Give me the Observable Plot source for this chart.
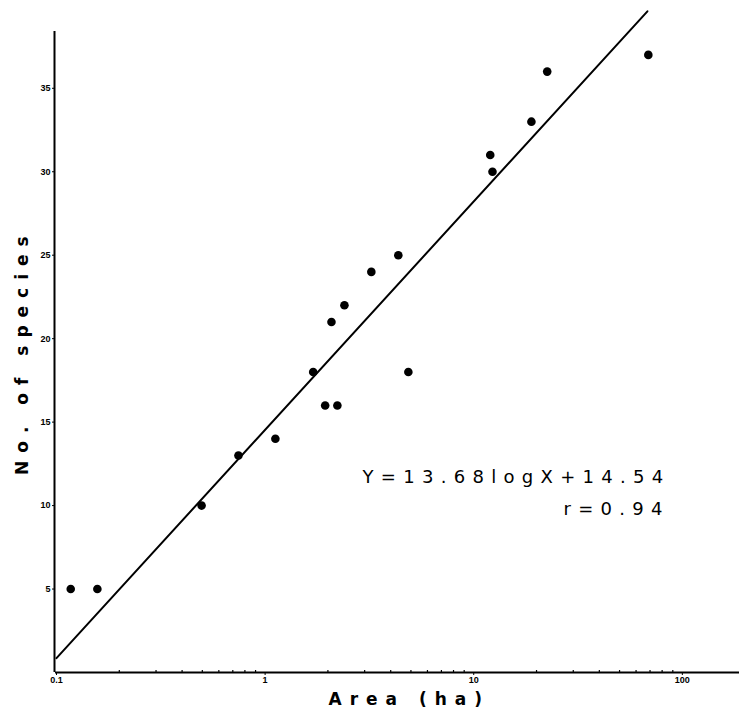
<!DOCTYPE html>
<html><head><meta charset="utf-8">
<script src="https://cdn.jsdelivr.net/npm/d3@7"></script>
<script src="https://cdn.jsdelivr.net/npm/@observablehq/plot@0.6"></script>
<style>body{margin:0;background:#fff}</style>
</head><body><div id="chart"></div>
<script>
// Data
const area = [0.117, 0.157, 0.496, 0.745, 1.12, 1.70, 1.94, 2.08, 2.22, 2.40, 3.23, 4.35, 4.86, 12.0, 12.3, 18.9, 22.5, 68.7];
const species = [5, 5, 10, 13, 14, 18, 16, 21, 16, 22, 24, 25, 18, 31, 30, 33, 36, 37];
const xTicks = [0.1, 1, 10, 100];
const xTickLabels = ["0.1", "1", "10", "100"];
const xMinor = [0.2,0.3,0.4,0.5,0.6,0.7,0.8,0.9, 2,3,4,5,6,7,8,9, 20,30,40,50,60,70,80,90];
const yTicks = [5, 10, 15, 20, 25, 30, 35];
const slope = 13.68, intercept = 14.54, rValue = 0.94;
const fitX = [0.1, 68];
const xDomain = [0.1, 190];
const yDomain = [0, 39.6];
const yAxisTop = 38.4;
const xLabel = "Area (ha)";
const yLabel = "No. of species";
const eqLine1 = "Y=13.68logX+14.54";
const eqLine2 = "r=0.94";

const points = area.map((a, i) => ({area: a, species: species[i]}));
const fit = fitX.map(x => ({x, y: slope * Math.log10(x) + intercept}));

const chart = Plot.plot({
  width: 740,
  height: 715,
  marginLeft: 56,
  marginRight: 0,
  marginTop: 11,
  marginBottom: 43,
  style: {background: "#fff", color: "#000"},
  x: {type: "log", domain: xDomain},
  y: {domain: yDomain},
  marks: [
    Plot.ruleX([xDomain[0]], {y1: 0, y2: yAxisTop, stroke: "#000", strokeWidth: 2, dx: -2}),
    Plot.ruleY([0], {x1: xDomain[0], x2: xDomain[1], stroke: "#000", strokeWidth: 2, dx: -1}),
    Plot.ruleX(xMinor, {y1: 0, y2: 0.12, stroke: "#000", strokeWidth: 1.2}),
    Plot.axisX({ticks: xTicks, tickFormat: d => xTickLabels[xTicks.indexOf(d)], tickSize: 3, tickPadding: 1, fontSize: 9, fontWeight: "bold", fontFamily: "Liberation Sans", label: null}),
    Plot.axisY({ticks: yTicks, tickSize: 3, tickPadding: 2, fontSize: 9, fontWeight: "bold", fontFamily: "Liberation Sans", label: null, dx: -1}),
    Plot.line(fit, {x: "x", y: "y", stroke: "#000", strokeWidth: 2}),
    Plot.dot(points, {x: "area", y: "species", r: 4.3, fill: "#000", stroke: "none"}),
    Plot.text([eqLine1], {frameAnchor: "right", textAnchor: "start", dx: -378, dy: 135, fontSize: 18, fontFamily: "DejaVu Sans", fill: "#000"}),
    Plot.text([eqLine2], {frameAnchor: "right", textAnchor: "start", dx: -177, dy: 167, fontSize: 18, fontFamily: "DejaVu Sans", fill: "#000"}),
    Plot.text([xLabel], {frameAnchor: "bottom", textAnchor: "start", dy: 32, dx: -70, fontSize: 17, fontWeight: "bold", fontFamily: "DejaVu Sans", fill: "#000"}),
    Plot.text([yLabel], {frameAnchor: "left", textAnchor: "start", rotate: -90, dx: -34, dy: 133, fontSize: 17, fontWeight: "bold", fontFamily: "DejaVu Sans", fill: "#000"})
  ]
});
document.getElementById("chart").appendChild(chart);
chart.querySelectorAll("text").forEach(t => {
  const s = t.textContent;
  if (s === xLabel || s === yLabel) t.setAttribute("letter-spacing", "8px");
  if (s === eqLine1 || s === eqLine2) t.setAttribute("letter-spacing", "7.3px");
});
</script>
</body></html>
